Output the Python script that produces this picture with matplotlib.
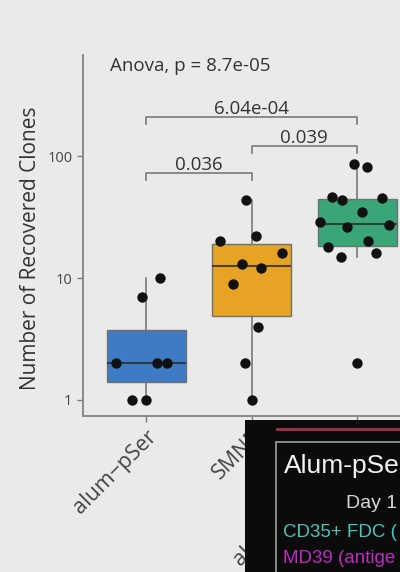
import numpy as np
import matplotlib
matplotlib.use("Agg")
import matplotlib.pyplot as plt
from matplotlib import cbook
from matplotlib.patches import Rectangle
from matplotlib.lines import Line2D

plt.rcParams['font.family'] = ['Open Sans', 'DejaVu Sans']

groups = ["alum\u2212pSer", "SMNP", "alum\u2212pSer+SMNP"]
box_colors = ["#3d7cc4", "#e6a324", "#3aa577"]

# recovered clones per animal
alum_pser = [2, 2, 2, 1, 1, 7, 10]
smnp = [44, 20, 22, 16, 13, 12, 9, 4, 2, 1]
alum_smnp = [46, 44, 45, 35, 29, 27, 26, 20, 18, 16, 15, 2, 86, 81]

# horizontal jitter of the dots (category units)
jit_alum = [-0.29, 0.10, 0.20, -0.13, 0.0, -0.04, 0.13]
jit_smnp = [-0.05, -0.30, 0.04, 0.29, -0.09, 0.09, -0.18, 0.06, -0.06, 0.0]
jit_combo = [-0.24, -0.14, 0.24, 0.05, -0.35, 0.30, -0.10, 0.10, -0.28,
             0.18, -0.15, 0.0, -0.03, 0.09]

# pairwise tests
pairs = [(1, 2), (2, 3), (1, 3)]
p_labels = ["0.036", "0.039", "6.04e-04"]
bracket_y = [72.6, 120.7, 209]
anova_label = "Anova, p = 8.7e-05"

values = [alum_pser, smnp, alum_smnp]
jitters = [jit_alum, jit_smnp, jit_combo]

bg = "#eaeae8"
fig = plt.figure(figsize=(4.0, 5.72), dpi=100, facecolor=bg)
ax = fig.add_axes([0.207, 0.2727, 0.844, 0.631])
ax.set_facecolor(bg)
ax.set_yscale("log")

# box stats on log10 values, like scale_y_log10
stats = []
for v in values:
    s = cbook.boxplot_stats(np.log10(v), whis=1.5)[0]
    for k in ("med", "q1", "q3", "whislo", "whishi"):
        s[k] = 10 ** s[k]
    s["fliers"] = []
    stats.append(s)

bp = ax.bxp(stats, positions=[1, 2, 3], widths=0.75, patch_artist=True,
            showcaps=False, showfliers=False,
            boxprops=dict(edgecolor="#707070", linewidth=1.0),
            whiskerprops=dict(color="#7a7a7a", linewidth=1.2),
            medianprops=dict(color="#2b2b2b", linewidth=1.5, alpha=0.8))
for patch, c in zip(bp["boxes"], box_colors):
    patch.set_facecolor(c)

for i, (v, j) in enumerate(zip(values, jitters)):
    ax.scatter(np.array(j) + i + 1, v, s=56, color="#111111", zorder=4,
               linewidths=0)

# comparison brackets
for (a, b), lab, y in zip(pairs, p_labels, bracket_y):
    drop = y / 10 ** 0.06
    ax.plot([a, a, b, b], [drop, y, y, drop], color="#7a7a7a", lw=1.2)
    ax.annotate(lab, ((a + b) / 2, y), xytext=(0, 2), textcoords="offset points",
                ha="center", va="baseline", fontsize=13.5, color="#333333")

ax.text(0.081, 0.956, anova_label, transform=ax.transAxes, ha="left",
        va="baseline", fontsize=13.5, color="#333333")

ax.set_xlim(0.4, 3.6)
ax.set_ylim(0.739, 673)
ax.set_yticks([1, 10, 100])
ax.set_yticklabels(["1", "10", "100"])
ax.yaxis.set_minor_locator(matplotlib.ticker.NullLocator())
ax.set_xticks([1, 2, 3])
ax.set_xticklabels(groups, rotation=45, ha="right", va="top",
                   rotation_mode="anchor")
ax.set_ylabel("Number of Recovered Clones", fontsize=15, color="#333333")
ax.yaxis.set_label_coords(-0.124, 0.465)
ax.tick_params(axis="both", colors="#7a7a7a", labelcolor="#444444",
               length=4, width=1.0)
ax.tick_params(axis="y", labelsize=10.5)
ax.tick_params(axis="x", labelsize=15.5)
for side in ("top", "right"):
    ax.spines[side].set_visible(False)
for side in ("left", "bottom"):
    ax.spines[side].set_color("#8a8a8a")
    ax.spines[side].set_linewidth(1.4)

# inset panel from the slide in the lower right corner
panel = Rectangle((245 / 400, 0), 155 / 400, 152 / 572, transform=fig.transFigure,
                  facecolor="#0b0b0b", edgecolor="none", zorder=10)
fig.add_artist(panel)
fig.add_artist(Line2D([277 / 400, 1.0], [1 - 429 / 572] * 2,
                      transform=fig.transFigure, color="#9c2f48", lw=2.2, zorder=11))
frame = Rectangle((276 / 400, -0.1), 0.5, 1 - 442 / 572 + 0.1,
                  transform=fig.transFigure, facecolor="none",
                  edgecolor="#8a8a8a", lw=1.4, zorder=11)
fig.add_artist(frame)
fig.text(284 / 400, 1 - 473 / 572, "Alum-pSe", color="#f2f2f2", fontsize=19,
         family=["Liberation Sans"], va="baseline", zorder=12)
fig.text(346 / 400, 1 - 508 / 572, "Day 1", color="#d8d8d8", fontsize=14,
         family=["Liberation Sans"], va="baseline", zorder=12)
fig.text(283 / 400, 1 - 537 / 572, "CD35+ FDC (", color="#45c6bd", fontsize=13.5,
         family=["Liberation Sans"], va="baseline", zorder=12)
fig.text(283 / 400, 1 - 563 / 572, "MD39 (antige", color="#c22ac4", fontsize=13.5,
         family=["Liberation Sans"], va="baseline", zorder=12)

fig.savefig("out.png", dpi=100, facecolor=bg)
